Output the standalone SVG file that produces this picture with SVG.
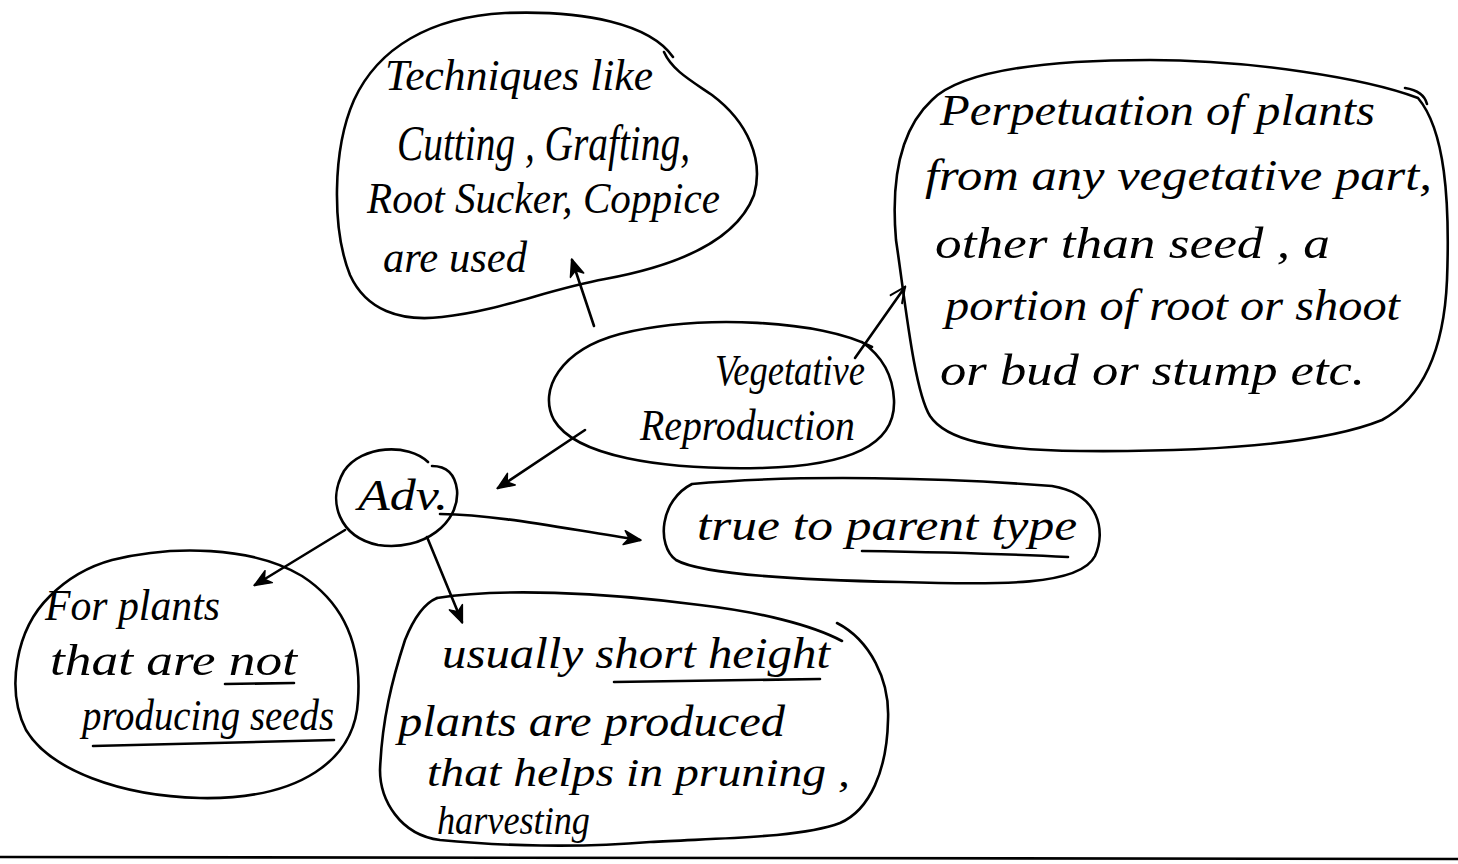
<svg xmlns="http://www.w3.org/2000/svg" width="1458" height="864" viewBox="0 0 1458 864">
  <style>
    .ink { fill: none; stroke: #000; stroke-width: 2.6; stroke-linecap: round; stroke-linejoin: round; }
    .hand { font-family: "Liberation Serif", "DejaVu Serif", serif; font-style: italic; font-size: 44px; fill: #000; }
    .big { font-size: 50px; }
    .small { font-size: 40px; }
  </style>
  <defs>
    <marker id="tip" viewBox="0 0 20 20" refX="18" refY="10" markerWidth="20" markerHeight="20" markerUnits="userSpaceOnUse" orient="auto">
      <path d="M2,3 L19,10 L2,17 L7,10 Z" fill="#000" stroke="#000" stroke-width="1.5" stroke-linejoin="round"/>
    </marker>
    <marker id="open" viewBox="0 0 20 20" refX="18" refY="10" markerWidth="20" markerHeight="20" markerUnits="userSpaceOnUse" orient="auto">
      <path d="M3,3 L18,10 L3,17" fill="none" stroke="#000" stroke-width="2" stroke-linecap="round"/>
    </marker>
  </defs>
  <rect width="1458" height="864" fill="#fff"/>

  <!-- techniques bubble -->
  <g id="techniques">
    <path class="ink" d="M673,57 C650,24 585,10 505,13 C430,17 378,48 354,100 C332,150 332,230 350,275 C366,310 400,322 442,317 C500,311 545,290 605,279 C665,268 735,245 754,195 C764,160 748,122 712,95 C690,80 672,70 664,52"/>
    <text class="hand" x="385" y="90" textLength="268" lengthAdjust="spacingAndGlyphs">Techniques like</text>
    <text class="hand big" x="397" y="160" textLength="293" lengthAdjust="spacingAndGlyphs">Cutting , Grafting,</text>
    <text class="hand" x="367" y="213" textLength="353" lengthAdjust="spacingAndGlyphs">Root Sucker, Coppice</text>
    <text class="hand" x="383" y="272" textLength="144" lengthAdjust="spacingAndGlyphs">are used</text>
  </g>

  <!-- definition bubble -->
  <g id="definition">
    <path class="ink" d="M932,100 C962,70 1050,60 1150,60 C1250,60 1365,78 1418,98 C1445,130 1450,200 1447,280 C1444,350 1422,398 1382,420 C1320,445 1200,452 1080,451 C990,450 946,440 930,416 C914,390 905,300 896,240 C890,170 905,125 932,100 Z"/>
    <path class="ink" d="M1405,88 C1418,90 1425,96 1427,104"/>
    <text class="hand" x="940" y="125" textLength="435" lengthAdjust="spacingAndGlyphs">Perpetuation of plants</text>
    <text class="hand" x="925" y="190" textLength="507" lengthAdjust="spacingAndGlyphs">from any  vegetative part,</text>
    <text class="hand" x="935" y="258" textLength="395" lengthAdjust="spacingAndGlyphs">other than seed ,  a</text>
    <text class="hand" x="945" y="320" textLength="455" lengthAdjust="spacingAndGlyphs">portion of root or shoot</text>
    <text class="hand" x="940" y="385" textLength="425" lengthAdjust="spacingAndGlyphs">or bud  or stump etc.</text>
  </g>

  <!-- central topic -->
  <g id="vegetative">
    <path class="ink" d="M872,347 C822,320 700,314 620,334 C560,350 538,390 554,420 C575,456 660,470 760,468 C850,466 896,445 894,400 C893,375 882,356 862,342"/>
    <text class="hand" x="715" y="385" textLength="150" lengthAdjust="spacingAndGlyphs">Vegetative</text>
    <text class="hand" x="640" y="440" textLength="215" lengthAdjust="spacingAndGlyphs">Reproduction</text>
  </g>

  <!-- advantages hub -->
  <g id="adv">
    <path class="ink" d="M428,462 C408,443 362,445 344,471 C326,502 340,537 378,545 C424,552 460,522 457,490 C455,474 446,466 432,466"/>
    <text class="hand" x="358" y="510" textLength="90" lengthAdjust="spacingAndGlyphs">Adv.</text>
  </g>

  <!-- true to parent type -->
  <g id="true-type">
    <path class="ink" d="M692,484 C800,474 950,478 1052,486 C1100,494 1106,532 1095,556 C1080,586 1000,585 900,582 C800,580 702,575 676,560 C656,545 660,500 692,484 Z"/>
    <text class="hand" x="697" y="540" textLength="380" lengthAdjust="spacingAndGlyphs">true to parent type</text>
    <path class="ink" d="M862,551 C930,552 1010,554 1068,557"/>
  </g>

  <!-- no seeds -->
  <g id="no-seeds">
    <path class="ink" d="M112,560 C172,545 252,546 302,576 C342,602 362,642 358,700 C355,760 300,800 200,798 C120,796 50,770 26,730 C6,690 15,630 50,596 C70,576 90,566 112,560 Z"/>
    <text class="hand" x="45" y="620" textLength="175" lengthAdjust="spacingAndGlyphs">For plants</text>
    <text class="hand" x="50" y="675" textLength="247" lengthAdjust="spacingAndGlyphs">that are not</text>
    <path class="ink" d="M225,684 L294,683"/>
    <text class="hand" x="82" y="730" textLength="252" lengthAdjust="spacingAndGlyphs">producing seeds</text>
    <path class="ink" d="M93,746 L334,740"/>
  </g>

  <!-- short height -->
  <g id="short-height">
    <path class="ink" d="M437,598 C500,588 600,592 700,605 C760,612 812,625 842,641"/>
    <path class="ink" d="M837,623 C870,640 890,680 888,720 C887,770 870,810 840,823 C800,838 720,838 650,842 C580,848 500,846 440,840 C400,835 380,800 380,770 C382,720 392,680 405,640 C415,615 425,603 437,598"/>
    <text class="hand" x="442" y="668" textLength="388" lengthAdjust="spacingAndGlyphs">usually  short height</text>
    <path class="ink" d="M614,682 L820,679"/>
    <text class="hand" x="398" y="736" textLength="387" lengthAdjust="spacingAndGlyphs">plants  are  produced</text>
    <text class="hand small" x="427" y="786" textLength="423" lengthAdjust="spacingAndGlyphs">that helps in pruning ,</text>
    <text class="hand small" x="437" y="834" textLength="153" lengthAdjust="spacingAndGlyphs">harvesting</text>
  </g>

  <!-- connectors -->
  <g id="connectors">
    <path class="ink" d="M594,326 L572,260" marker-end="url(#tip)"/>
    <path class="ink" d="M855,358 L905,287" marker-end="url(#open)"/>
    <path class="ink" d="M585,430 L498,488" marker-end="url(#tip)"/>
    <path class="ink" d="M440,514 C500,515 560,528 640,540" marker-end="url(#tip)"/>
    <path class="ink" d="M345,530 L255,585" marker-end="url(#tip)"/>
    <path class="ink" d="M427,537 L462,622" marker-end="url(#tip)"/>
  </g>

  <!-- page rule -->
  <path class="ink" d="M0,857 L1458,859"/>
</svg>
